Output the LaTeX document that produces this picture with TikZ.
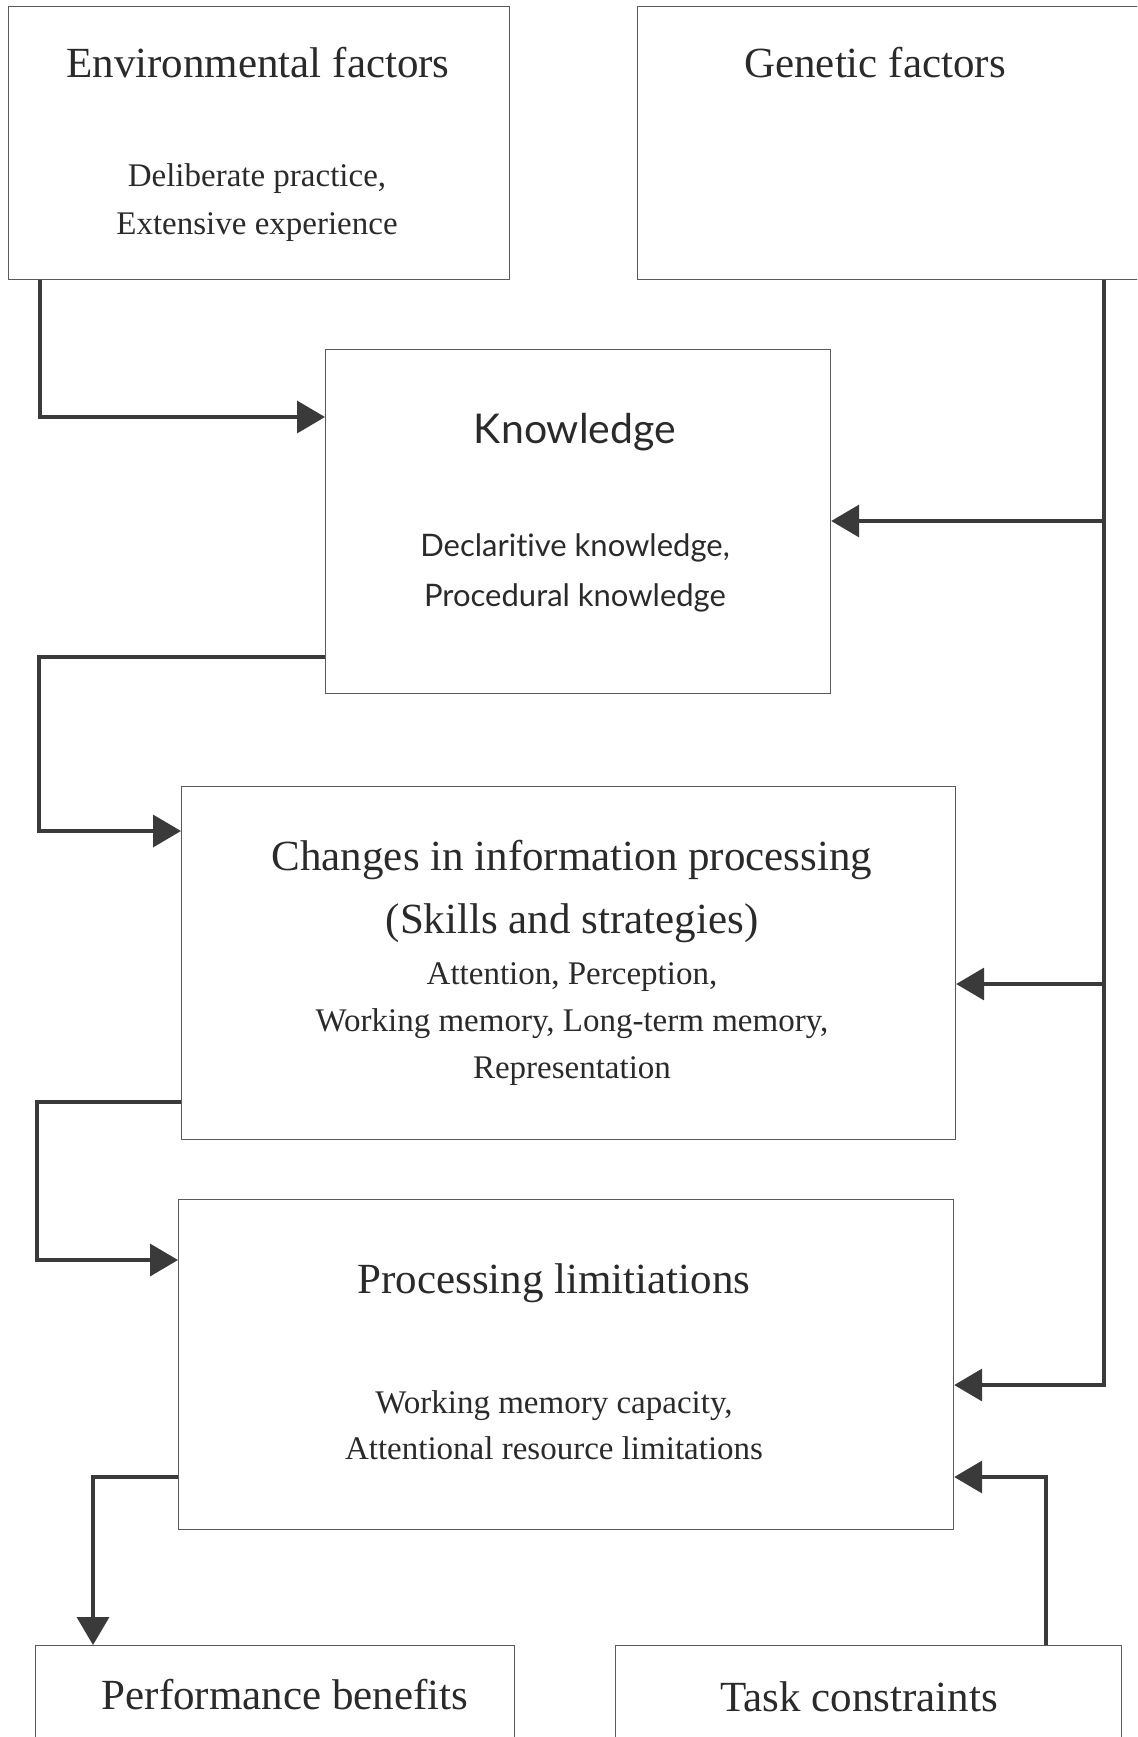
\documentclass[tikz,border=0pt]{standalone}
\usepackage{fontspec}
\setmainfont{Liberation Serif}
\newfontfamily\gillish{Lato}[Ligatures=NoCommon]
\usepackage{xcolor}
\usepackage{tikz}
\usetikzlibrary{calc,arrows.meta}
\definecolor{ink}{HTML}{2A2A2A}
\definecolor{frame}{HTML}{5A5A5A}
\definecolor{wire}{HTML}{3A3A3A}
\tikzset{
  box/.style={draw=frame, line width=0.6pt, rectangle, inner sep=0pt, anchor=north west},
  link/.style={draw=wire, line width=1.8pt, line join=miter, -{Triangle[length=14pt,width=16pt]}},
  trunk/.style={draw=wire, line width=1.8pt, line join=miter},
  head/.style={text=ink, font=\fontsize{21.5}{26}\selectfont, align=center, inner sep=0pt},
  sub/.style={text=ink, font=\fontsize{16.5}{24}\selectfont, align=center, inner sep=0pt},
  headk/.style={text=ink, font=\gillish\fontsize{20.5}{25}\selectfont, align=center, inner sep=0pt},
  subk/.style={text=ink, font=\gillish\fontsize{15.5}{25}\selectfont, align=center, inner sep=0pt},
}

\begin{document}
\begin{tikzpicture}[x=0.5pt, y=-0.5pt]
  \useasboundingbox (0,0) rectangle (1137,1737);
  \clip (0,0) rectangle (1137,1737);

  % boxes
  \node[box, minimum width=250.5pt, minimum height=136.5pt] (env) at (8,6) {};
  \node[box, minimum width=256.5pt, minimum height=136.5pt] (gen) at (637,6) {};
  \node[box, minimum width=252.5pt, minimum height=172pt] (know) at (325,349) {};
  \node[box, minimum width=387pt, minimum height=176.5pt] (chg) at (181,786) {};
  \node[box, minimum width=387.5pt, minimum height=165pt] (proc) at (178,1199) {};
  \node[box, minimum width=239.5pt, minimum height=60pt] (perf) at (35,1645) {};
  \node[box, minimum width=253pt, minimum height=60pt] (task) at (615,1645) {};

  % texts
  \node[head] (envT) at (258,63) {Environmental factors};
  \node[sub] (envS) at (257,203) {Deliberate practice,\\Extensive experience};
  \node[head] (genT) at (875,63) {Genetic factors};
  \node[headk] (knowT) at (575,432) {Knowledge};
  \node[subk] (knowS) at (575,573) {Declaritive knowledge,\\Procedural knowledge};
  \node[head, font=\fontsize{21.5}{31.5}\selectfont] (chgT) at (572,891) {Changes in information processing\\(Skills and strategies)};
  \node[sub, font=\fontsize{16.5}{23.3}\selectfont] (chgS) at (572,1024) {Attention, Perception,\\Working memory, Long-term memory,\\Representation};
  \node[head] (procT) at (554,1283) {Processing limitiations};
  \node[sub, font=\fontsize{16.5}{23}\selectfont] (procS) at (554,1425) {Working memory capacity,\\Attentional resource limitations};
  \node[head] (perfT) at (285,1695) {Performance benefits};
  \node[head] (taskT) at (859,1697) {Task constraints};

  % bends
  \coordinate (e1) at (40,417);
  \coordinate (k1) at (39,657);
  \coordinate (k2) at (39,831);
  \coordinate (c1) at (37,1102);
  \coordinate (c2) at (37,1260);
  \coordinate (p1) at (93,1477);
  \coordinate (g1) at (1104,521);
  \coordinate (g2) at (1104,984);
  \coordinate (g3) at (1104,1385);
  \coordinate (t1) at (1046,1477);

  % connectors
  \draw[link] (env.south -| e1) |- (e1 -| know.west);
  \draw[link] (k1 -| know.west) -- (k1) -- (k2) -- (k2 -| chg.west);
  \draw[link] (c1 -| chg.west) -- (c1) -- (c2) -- (c2 -| proc.west);
  \draw[link] (p1 -| proc.west) -- (p1) -- (perf.north -| p1);
  \draw[link] (gen.south -| g3) -- (g3) -- (g3 -| proc.east);
  \draw[link] (g1) -- (g1 -| know.east);
  \draw[link] (g2) -- (g2 -| chg.east);
  \draw[link] (task.north -| t1) -- (t1) -- (t1 -| proc.east);
\end{tikzpicture}
\end{document}
